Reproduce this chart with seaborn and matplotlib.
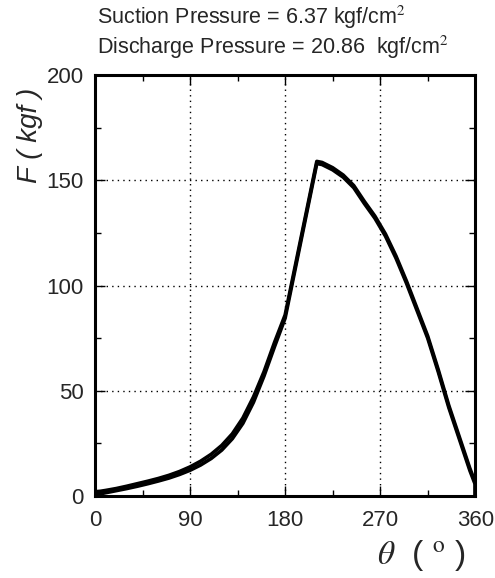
import matplotlib
matplotlib.use('Agg')
import matplotlib.pyplot as plt
import seaborn as sns
import pandas as pd
from matplotlib.ticker import MultipleLocator

sns.set_style('ticks')
plt.rcParams['font.family'] = ['Liberation Sans', 'DejaVu Sans']
plt.rcParams['mathtext.fontset'] = 'stix'

# two measured cycles, crank angle (deg) vs force (kgf)
theta_a = [0, 5, 10, 20, 30, 40, 50, 60, 70, 80, 90, 100, 110, 120, 130, 140,
           150, 160, 170, 180, 210, 215, 225, 235, 245, 255, 265, 275, 285,
           295, 305, 315, 325, 335, 345, 355, 360, 360]
force_a = [2, 2.2, 2.6, 3.5, 4.6, 5.8, 7, 8.3, 9.8, 11.6, 13.8, 16.5, 19.8,
           24, 29.5, 37, 47, 59, 73, 86, 159, 158.5, 156, 152.5, 147.5, 140,
           133, 124.5, 114, 102, 89, 76, 60, 43, 28, 13, 6.5, 0]
theta_b = [0, 5, 10, 20, 30, 40, 50, 60, 70, 80, 90, 100, 110, 120, 130, 140,
           150, 160, 170, 180, 210, 215, 225, 235, 245, 255, 265, 275, 285,
           295, 305, 315, 325, 335, 345, 355, 360, 360]
force_b = [0.8, 1, 1.5, 2.5, 3.5, 4.6, 5.8, 7.1, 8.5, 10.2, 12.2, 14.7, 17.8,
           21.8, 27.2, 34.5, 44.5, 57, 71, 84.5, 158, 157.5, 155, 151.5, 146.5,
           139, 132, 123.5, 113, 101, 88, 75, 59, 42, 27, 12, 5.5, 0]

df = pd.concat([
    pd.DataFrame({'theta': theta_a, 'F': force_a, 'cycle': 'a'}),
    pd.DataFrame({'theta': theta_b, 'F': force_b, 'cycle': 'b'}),
])

fig = plt.figure(figsize=(4.95, 5.78), dpi=100)
ax = fig.add_axes([0.192, 0.142, 0.768, 0.728])

sns.lineplot(data=df, x='theta', y='F', units='cycle', estimator=None, sort=False,
             color='black', lw=2.6, ax=ax, legend=False)

ax.set_xlim(0, 360)
ax.set_ylim(0, 200)
ax.xaxis.set_major_locator(MultipleLocator(90))
ax.xaxis.set_minor_locator(MultipleLocator(45))
ax.yaxis.set_major_locator(MultipleLocator(50))
ax.yaxis.set_minor_locator(MultipleLocator(25))
ax.grid(True, which='major', color='black', linestyle=(0, (1, 3)), lw=1)
ax.tick_params(which='both', direction='in', top=True, right=True, color='black')
ax.tick_params(which='major', length=7, width=1, labelsize=16)
ax.tick_params(axis='x', which='major', pad=10)
ax.tick_params(axis='y', which='major', pad=8)
ax.tick_params(which='minor', length=4, width=1)
for s in ax.spines.values():
    s.set_linewidth(2.2)
    s.set_color('black')

ax.set_xlabel(r'$\theta$  ( $^{\mathrm{o}}$ )', fontsize=24)
ax.xaxis.set_label_coords(0.86, -0.1)
ax.set_ylabel('F ( kgf )', fontsize=20, style='italic')
ax.yaxis.set_label_coords(-0.137, 0.857)

fig.text(0.196, 0.97, 'Suction Pressure = 6.37 kgf/cm$^2$', fontsize=15.5, va='center')
fig.text(0.196, 0.918, 'Discharge Pressure = 20.86  kgf/cm$^2$', fontsize=15.5, va='center')

fig.savefig('out.png', dpi=100, facecolor='white')
